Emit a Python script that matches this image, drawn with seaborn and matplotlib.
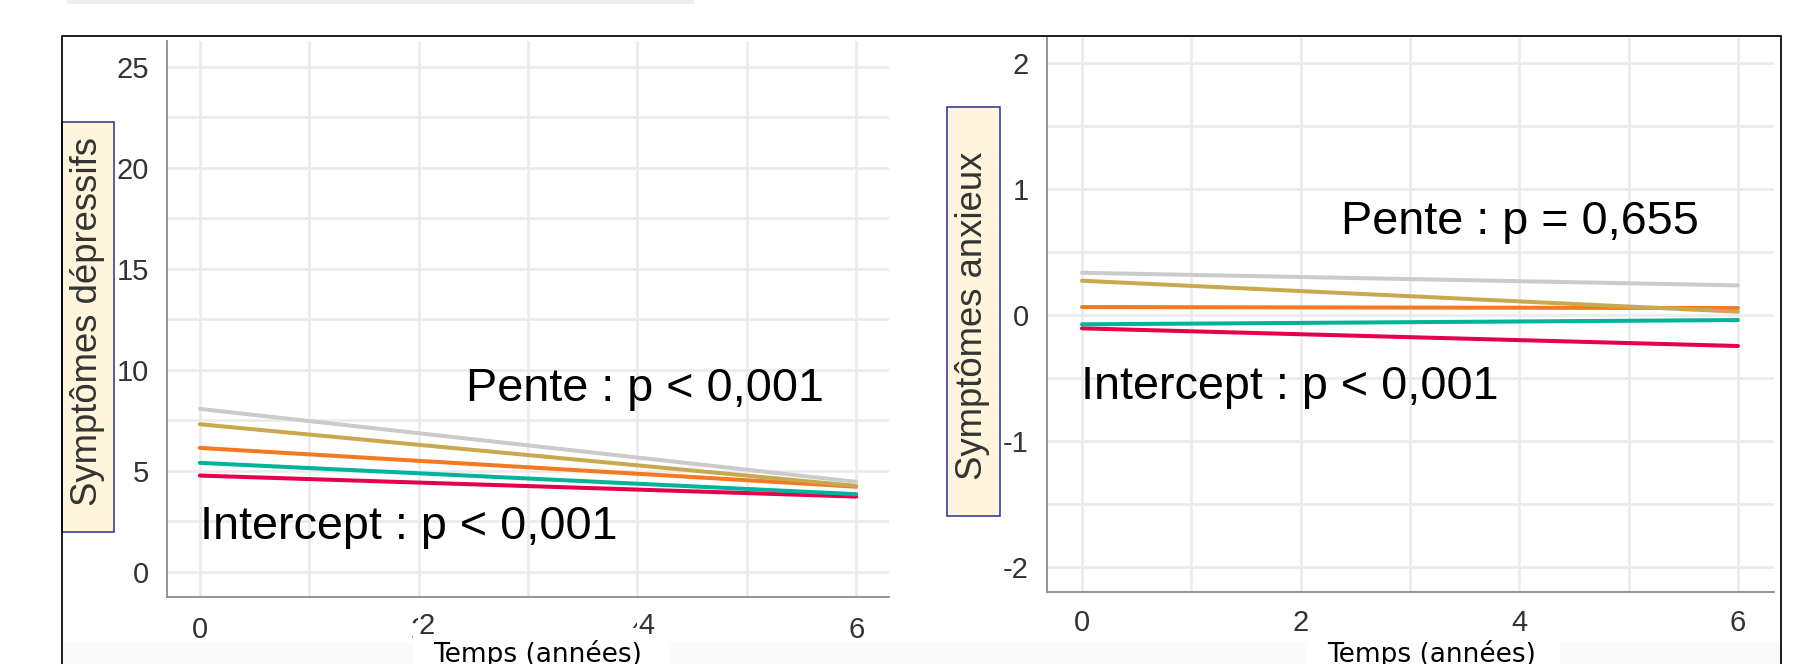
import numpy as np
import pandas as pd
import matplotlib
matplotlib.use("Agg")
import matplotlib.pyplot as plt
import seaborn as sns
from matplotlib.patches import Rectangle

# ---------------- data ----------------
time_points = [0, 6]
groups = ["Groupe 1", "Groupe 2", "Groupe 3", "Groupe 4", "Groupe 5"]
colors = ["#CBCBCB", "#C9A94F", "#F5791F", "#00B49B", "#E6004C"]
dep_start = [8.07, 7.31, 6.14, 5.40, 4.77]
dep_end = [4.46, 4.26, 4.22, 3.85, 3.73]
anx_start = [0.333, 0.270, 0.061, -0.076, -0.108]
anx_end = [0.233, 0.024, 0.053, -0.042, -0.248]

x_ticks = [0, 2, 4, 6]
x_minor = [1, 3, 5]
y_ticks_dep = [0, 5, 10, 15, 20, 25]
y_minor_dep = [2.5, 7.5, 12.5, 17.5, 22.5]
y_ticks_anx = [-2, -1, 0, 1, 2]
y_minor_anx = [-1.5, -0.5, 0.5, 1.5]

ylabel_dep = "Symptômes dépressifs"
ylabel_anx = "Symptômes anxieux"
xlabel = "Temps (années)"
ann_dep = ["Pente : p < 0,001", "Intercept : p < 0,001"]
ann_anx = ["Pente : p = 0,655", "Intercept : p < 0,001"]

# long table for seaborn
rows = []
for g, ds, de, as_, ae in zip(groups, dep_start, dep_end, anx_start, anx_end):
    rows.append({"Groupe": g, "Temps": time_points[0], "dep": ds, "anx": as_})
    rows.append({"Groupe": g, "Temps": time_points[1], "dep": de, "anx": ae})
df = pd.DataFrame(rows)
palette = dict(zip(groups, colors))
draw_order = groups[::-1]

# ---------------- figure ----------------
W, H = 1814, 664
sns.set_style("white")
plt.rcParams["font.family"] = ["Liberation Sans", "DejaVu Sans"]
fig = plt.figure(figsize=(W / 100, H / 100), dpi=100)
fig.patch.set_facecolor("white")


def fx(x):
    return x / W


def fy(y):
    return 1 - y / H


axL = fig.add_axes([fx(167), fy(597), 722 / W, 556 / H])
axR = fig.add_axes([fx(1047), fy(592), 727 / W, 554 / H])

GRID = "#EBEBEB"
SPINE = "#8C8C8C"
TICKC = "#333333"
TICKFS = 21


def style(ax, xlim, ylim, yt, ym, xpad):
    ax.set_xlim(*xlim)
    ax.set_ylim(*ylim)
    ax.set_xticks(x_ticks)
    ax.set_xticks(x_minor, minor=True)
    ax.set_yticks(yt)
    ax.set_yticks(ym, minor=True)
    ax.set_xticklabels([str(t) for t in x_ticks])
    ax.set_yticklabels([str(t) for t in yt])
    ax.grid(True, which="both", color=GRID, lw=1.9)
    ax.set_axisbelow(True)
    ax.tick_params(which="both", length=0)
    ax.tick_params(axis="y", pad=13, labelsize=TICKFS, labelcolor=TICKC)
    ax.tick_params(axis="x", pad=xpad, labelsize=TICKFS, labelcolor=TICKC)
    for s in ["top", "right"]:
        ax.spines[s].set_visible(False)
    for s in ["left", "bottom"]:
        ax.spines[s].set_color(SPINE)
        ax.spines[s].set_linewidth(1.3)
    ax.set_xlabel("")
    ax.set_ylabel("")


sns.lineplot(data=df, x="Temps", y="dep", hue="Groupe", hue_order=draw_order,
             palette=palette, legend=False, lw=2.9, ax=axL)
sns.lineplot(data=df, x="Temps", y="anx", hue="Groupe", hue_order=draw_order,
             palette=palette, legend=False, lw=2.9, ax=axR)

style(axL, (-0.30, 6.30), (-1.24, 26.28), y_ticks_dep, y_minor_dep, 13.5)
style(axR, (-0.32, 6.33), (-2.20, 2.196), y_ticks_anx, y_minor_anx, 12.5)

# annotations
fs_ann = 33.7
axL.text(2.43, 8.47, ann_dep[0], fontsize=fs_ann, va="baseline", ha="left", color="black")
axL.text(0.0, 1.61, ann_dep[1], fontsize=fs_ann, va="baseline", ha="left", color="black")
axR.text(2.37, 0.644, ann_anx[0], fontsize=fs_ann, va="baseline", ha="left", color="black")
axR.text(-0.01, -0.669, ann_anx[1], fontsize=fs_ann, va="baseline", ha="left", color="black")

# y-label boxes
for (x0, y0, x1, y1) in [(62, 122, 114, 532), (947, 107, 1000, 516)]:
    fig.add_artist(Rectangle((fx(x0), fy(y1)), (x1 - x0) / W, (y1 - y0) / H,
                             transform=fig.transFigure, facecolor="#FFF5DC",
                             edgecolor="#2E2E8F", lw=1.1, zorder=2))
fig.text(fx(88), fy(322), ylabel_dep, rotation=90, ha="center", va="center",
         fontsize=26.3, color="#333333", zorder=3)
fig.text(fx(973), fy(315.5), ylabel_anx, rotation=90, ha="center", va="center",
         fontsize=26.3, color="#333333", zorder=3)

# outer frame
fig.add_artist(Rectangle((fx(62), fy(700)), (1781 - 62) / W, (700 - 36) / H,
                         transform=fig.transFigure, facecolor="none",
                         edgecolor="black", lw=1.25, zorder=4, clip_on=False))

# faint top bar and light bottom band
fig.add_artist(Rectangle((fx(67), fy(4)), (694 - 67) / W, 4 / H,
                         transform=fig.transFigure, facecolor="#EEEEEE",
                         edgecolor="none", zorder=1))
fig.add_artist(Rectangle((fx(63), fy(664)), (1780 - 63) / W, 22 / H,
                         transform=fig.transFigure, facecolor="#FAFAFA",
                         edgecolor="none", zorder=1))

# white boxes behind x-axis titles
fig.add_artist(Rectangle((fx(413), fy(664)), (670 - 413) / W, (664 - 628) / H,
                         transform=fig.transFigure, facecolor="white",
                         edgecolor="none", zorder=1.5))
fig.add_artist(Rectangle((fx(1306), fy(664)), (1560 - 1306) / W, (664 - 638) / H,
                         transform=fig.transFigure, facecolor="white",
                         edgecolor="none", zorder=1.5))

# shifted duplicate tick labels (pasted overlay in the original)
for lab, xpix in [("2", 427), ("4", 646)]:
    fig.text(fx(xpix), fy(626.5), lab, ha="center", va="center", fontsize=TICKFS,
             color=TICKC, zorder=2.5,
             bbox=dict(facecolor="white", edgecolor="none", pad=0.5))

# x-axis titles
fig.text(fx(433), fy(662), xlabel, ha="left", va="baseline", fontsize=19,
         family="DejaVu Sans", color="black", zorder=3)
fig.text(fx(1327), fy(662), xlabel, ha="left", va="baseline", fontsize=19,
         family="DejaVu Sans", color="black", zorder=3)

fig.savefig("out.png", dpi=100, facecolor="white")
